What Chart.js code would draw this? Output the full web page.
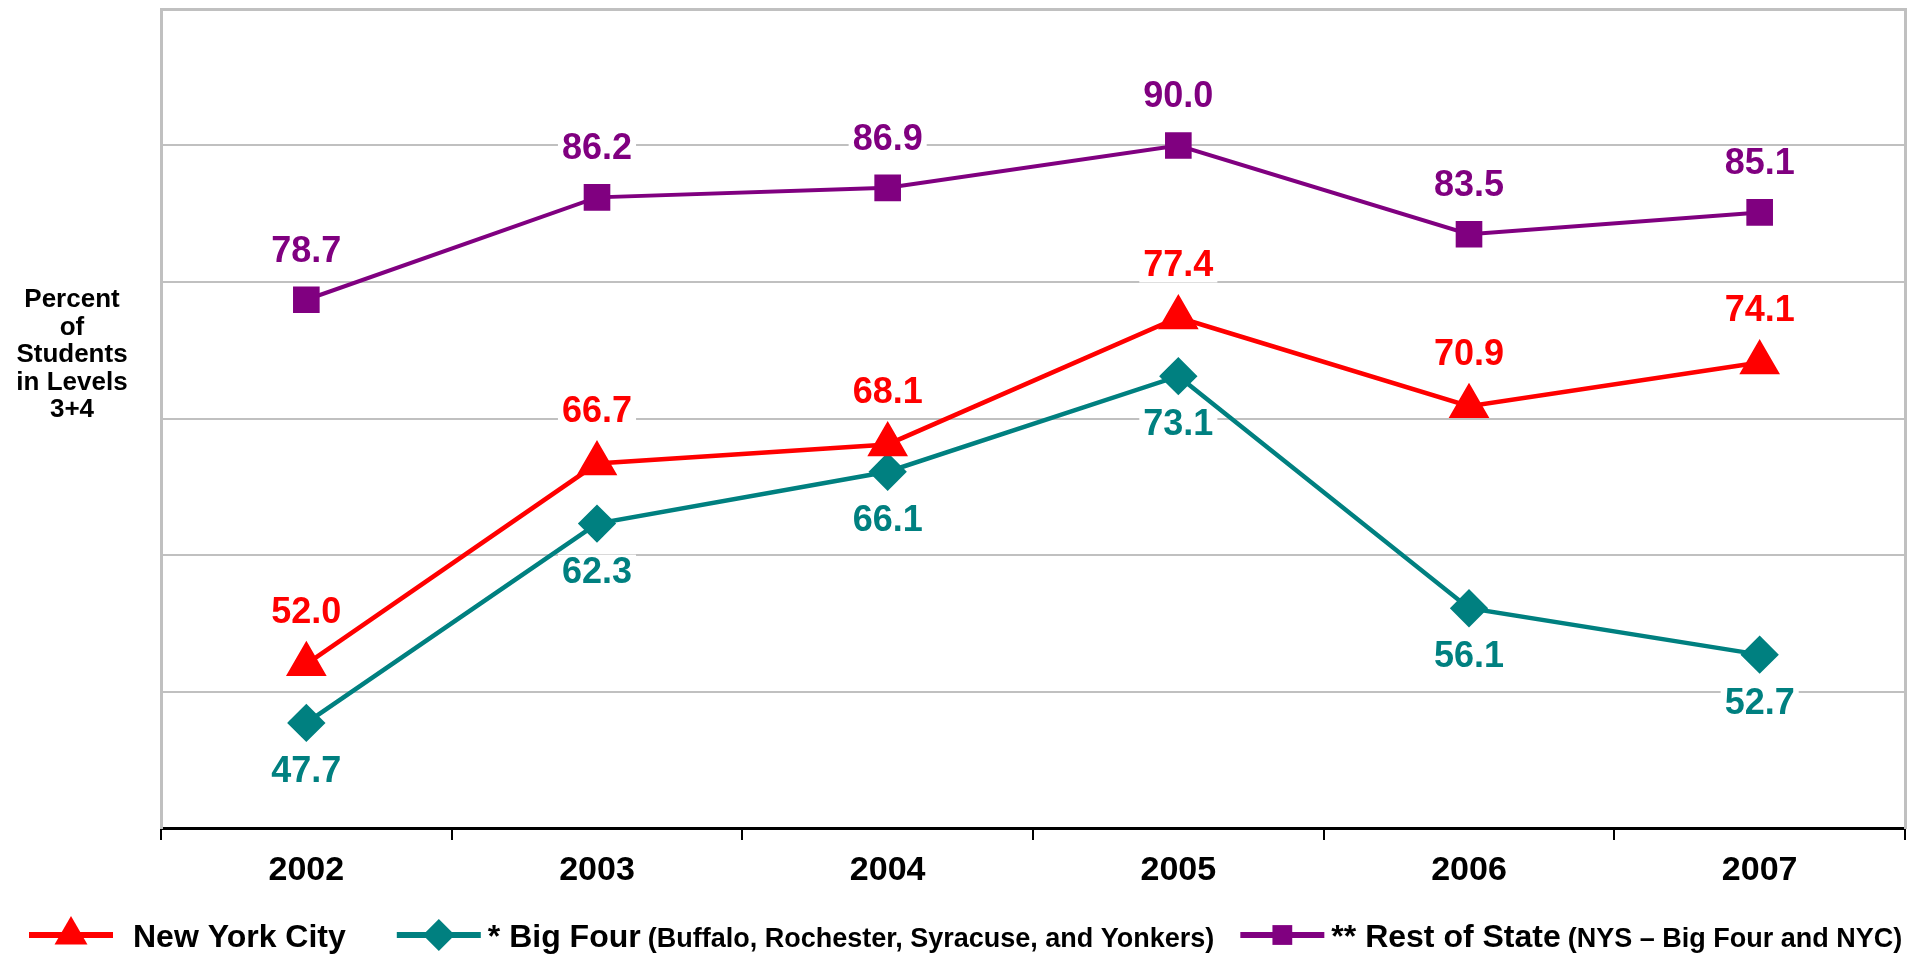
<!DOCTYPE html>
<html>
<head>
<meta charset="utf-8">
<title>Percent of Students in Levels 3+4</title>
<script src="https://cdn.jsdelivr.net/npm/chart.js@4.4.1/dist/chart.umd.min.js"></script>
<style>
  html, body { margin: 0; padding: 0; background: #fff; }
  canvas { display: block; }
</style>
</head>
<body>
<canvas id="chart" width="1909" height="955"></canvas>
<script>
const years = ['2002', '2003', '2004', '2005', '2006', '2007'];
const nycValues = [52.0, 66.7, 68.1, 77.4, 70.9, 74.1];
const bigFourValues = [47.7, 62.3, 66.1, 73.1, 56.1, 52.7];
const restOfStateValues = [78.7, 86.2, 86.9, 90.0, 83.5, 85.1];
const yRange = [40, 100];
const yStep = 10;
const yAxisTitle = ['Percent', 'of', 'Students', 'in Levels', '3+4'];
const legendNames = [
    ['New York City', ''],
    ['* Big Four', '(Buffalo, Rochester, Syracuse, and Yonkers)'],
    ['** Rest of State', '(NYS \u2013 Big Four and NYC)']
];

const SANS = '"Liberation Sans", Arial, sans-serif';
const GRID_GREY = '#c0c0c0';

// Valeurs affichées au-dessus / au-dessous des points, avec fond blanc
const valueLabels = {
    id: 'valueLabels',
    beforeDatasetsDraw(chart) {
        const ctx = chart.ctx;
        ctx.save();
        ctx.font = 'bold 36px ' + SANS;
        ctx.fillStyle = '#fff';
        chart.data.datasets.forEach((ds, i) => {
            chart.getDatasetMeta(i).data.forEach((pt, j) => {
                const text = ds.data[j].toFixed(1);
                const w = ctx.measureText(text).width + 8;
                ctx.fillRect(pt.x - w / 2, pt.y + ds.labelOffset - 17, w, 34);
            });
        });
        ctx.restore();
    },
    afterDatasetsDraw(chart) {
        const ctx = chart.ctx;
        ctx.save();
        ctx.font = 'bold 36px ' + SANS;
        ctx.textAlign = 'center';
        ctx.textBaseline = 'middle';
        chart.data.datasets.forEach((ds, i) => {
            ctx.fillStyle = ds.borderColor;
            chart.getDatasetMeta(i).data.forEach((pt, j) => {
                ctx.fillText(ds.data[j].toFixed(1), pt.x, pt.y + ds.labelOffset + 1);
            });
        });
        ctx.restore();
    }
};

// Titre de l'axe Y, horizontal, à gauche
const yTitle = {
    id: 'yTitle',
    afterDraw(chart) {
        const ctx = chart.ctx;
        ctx.save();
        ctx.font = 'bold 26px ' + SANS;
        ctx.fillStyle = '#000';
        ctx.textAlign = 'center';
        ctx.textBaseline = 'middle';
        const lh = 27.5;
        const y0 = 355 - lh * (yAxisTitle.length - 1) / 2;
        yAxisTitle.forEach((line, i) => ctx.fillText(line, 72, y0 + i * lh));
        ctx.restore();
    }
};

// Légende sur une ligne, avec deux tailles de texte
const legendRow = {
    id: 'legendRow',
    afterDraw(chart) {
        const ctx = chart.ctx;
        const y = 935;
        const baseline = 947;
        const mainFont = 'bold 32px ' + SANS;
        const subFont = 'bold 27px ' + SANS;
        const lineLen = 84;
        const textGaps = [20, 7, 7];
        const itemGaps = [51, 26];
        ctx.save();
        let x = 29;
        chart.data.datasets.forEach((ds, i) => {
            ctx.strokeStyle = ds.borderColor;
            ctx.lineWidth = 6;
            ctx.beginPath();
            ctx.moveTo(x, y);
            ctx.lineTo(x + lineLen, y);
            ctx.stroke();
            ctx.fillStyle = ds.borderColor;
            Chart.helpers.drawPoint(ctx, {
                pointStyle: ds.pointStyle,
                radius: ds.pointStyle === 'rect' ? 14 : ds.pointRadius,
                rotation: 0,
                borderWidth: 0
            }, x + lineLen / 2, y);
            ctx.fillStyle = '#000';
            ctx.textAlign = 'left';
            ctx.textBaseline = 'alphabetic';
            let tx = x + lineLen + textGaps[i];
            ctx.font = mainFont;
            ctx.fillText(legendNames[i][0], tx, baseline);
            tx += ctx.measureText(legendNames[i][0]).width;
            if (legendNames[i][1]) {
                tx += 7;
                ctx.font = subFont;
                ctx.fillText(legendNames[i][1], tx, baseline);
                tx += ctx.measureText(legendNames[i][1]).width;
            }
            x = tx + (itemGaps[i] || 0);
        });
        ctx.restore();
    }
};

const ctx = document.getElementById('chart').getContext('2d');
new Chart(ctx, {
    type: 'line',
    data: {
        labels: years,
        datasets: [{
            label: 'New York City',
            data: nycValues,
            borderColor: '#ff0000',
            backgroundColor: '#ff0000',
            pointBackgroundColor: '#ff0000',
            pointBorderColor: '#ff0000',
            borderWidth: 4.5,
            pointStyle: 'triangle',
            pointRadius: 19,
            pointHoverRadius: 19,
            labelOffset: -52
        }, {
            label: '* Big Four',
            data: bigFourValues,
            borderColor: '#008080',
            backgroundColor: '#008080',
            pointBackgroundColor: '#008080',
            pointBorderColor: '#008080',
            borderWidth: 4.5,
            pointStyle: 'rectRot',
            pointRadius: 16,
            pointHoverRadius: 16,
            labelOffset: 48
        }, {
            label: '** Rest of State',
            data: restOfStateValues,
            borderColor: '#800080',
            backgroundColor: '#800080',
            pointBackgroundColor: '#800080',
            pointBorderColor: '#800080',
            borderWidth: 4,
            pointStyle: 'rect',
            pointRadius: 16,
            pointHoverRadius: 16,
            labelOffset: -49
        }]
    },
    options: {
        responsive: false,
        animation: false,
        layout: { autoPadding: false, padding: { left: 161, top: 9, right: 4, bottom: 67 } },
        plugins: {
            legend: { display: false },
            tooltip: { enabled: false }
        },
        scales: {
            x: {
                offset: true,
                grid: {
                    offset: true,
                    drawOnChartArea: false,
                    drawTicks: true,
                    tickLength: 12,
                    color: '#000',
                    lineWidth: 2
                },
                border: { display: true, color: '#000', width: 3 },
                ticks: {
                    color: '#000',
                    padding: 10,
                    font: { family: SANS, size: 34, weight: 'bold' }
                },
                afterFit(scale) { scale.height = 60; }
            },
            y: {
                min: yRange[0],
                max: yRange[1],
                ticks: { display: false, stepSize: yStep },
                grid: {
                    drawTicks: false,
                    color: c => c.tick.value === yRange[0] ? 'rgba(0,0,0,0)' : GRID_GREY,
                    lineWidth: c => c.tick.value === yRange[1] ? 3 : 2
                },
                border: { display: true, color: GRID_GREY, width: 3 },
                afterFit(scale) { scale.width = 0; }
            },
            y2: {
                position: 'right',
                min: yRange[0],
                max: yRange[1],
                ticks: { display: false },
                grid: { display: false },
                border: { display: true, color: GRID_GREY, width: 3 },
                afterFit(scale) { scale.width = 0; }
            }
        }
    },
    plugins: [valueLabels, yTitle, legendRow]
});
</script>
</body>
</html>
